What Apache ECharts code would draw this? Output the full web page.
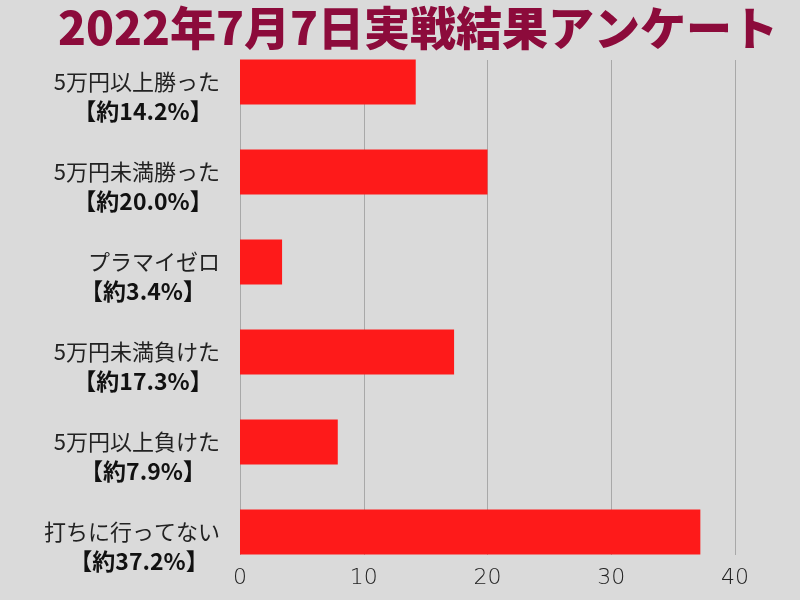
<!DOCTYPE html>
<html><head><meta charset="utf-8">
<script src="https://cdn.jsdelivr.net/npm/echarts@6/dist/echarts.min.js"></script>
<style>html,body{margin:0;padding:0;background:#dadada}#c{width:800px;height:600px}</style>
</head><body><div id="c"></div>
<script>
const titleText = '2022年7月7日実戦結果アンケート';
const categories = ['5万円以上勝った','5万円未満勝った','プラマイゼロ','5万円未満負けた','5万円以上負けた','打ちに行ってない'];
const percentLabels = ['【約14.2%】','【約20.0%】','【約3.4%】','【約17.3%】','【約7.9%】','【約37.2%】'];
const values = [14.2, 20.0, 3.4, 17.3, 7.9, 37.2];
const xTicks = [0, 10, 20, 30, 40];

const chart = echarts.init(document.getElementById('c'));
chart.setOption({
  backgroundColor: '#dadada',
  animation: false,
  title: {
    text: titleText, left: 413, textAlign: 'center', top: 0,
    textStyle: {fontFamily: '"Noto Sans CJK JP"', fontWeight: 900, fontSize: 46, color: '#8c0b3b'}
  },
  grid: [
    {left: 240, right: 65, top: 37, bottom: 23},
    {left: 240, right: 65, top: 60, bottom: 45}
  ],
  xAxis: [
    {gridIndex: 0, type: 'value', min: xTicks[0], max: xTicks[xTicks.length-1], interval: 10, show: false},
    {gridIndex: 1, type: 'value', min: xTicks[0], max: xTicks[xTicks.length-1], interval: 10,
      axisLine: {show: false}, axisTick: {show: false},
      splitLine: {show: true, lineStyle: {color: '#a8a8a8', width: 1}},
      axisLabel: {margin: 12, fontSize: 22, color: '#222', fontFamily: '"DejaVu Sans"', fontWeight: 200}}
  ],
  yAxis: [
    {gridIndex: 0, type: 'category', inverse: true, data: categories,
      axisLine: {show: false}, axisTick: {show: false}, splitLine: {show: false},
      axisLabel: {
        margin: 20, align: 'right', padding: [29, 0, 0, 0],
        formatter: (v, i) => '{a|' + v + '}\n{b|' + percentLabels[i] + '}',
        rich: {
          a: {fontFamily: '"Noto Sans CJK JP"', fontSize: 22, color: '#222', lineHeight: 29, align: 'right'},
          b: {fontFamily: '"Noto Sans CJK JP"', fontSize: 23, fontWeight: 'bold', color: '#111', lineHeight: 29, align: 'center', width: 154, padding: [0, 0, 0, 14]}
        }
      }},
    {gridIndex: 1, type: 'value', show: false}
  ],
  series: [{
    type: 'bar', xAxisIndex: 0, yAxisIndex: 0, data: values, barWidth: 45,
    itemStyle: {color: '#fe1a1a'}
  }]
});
</script></body></html>
